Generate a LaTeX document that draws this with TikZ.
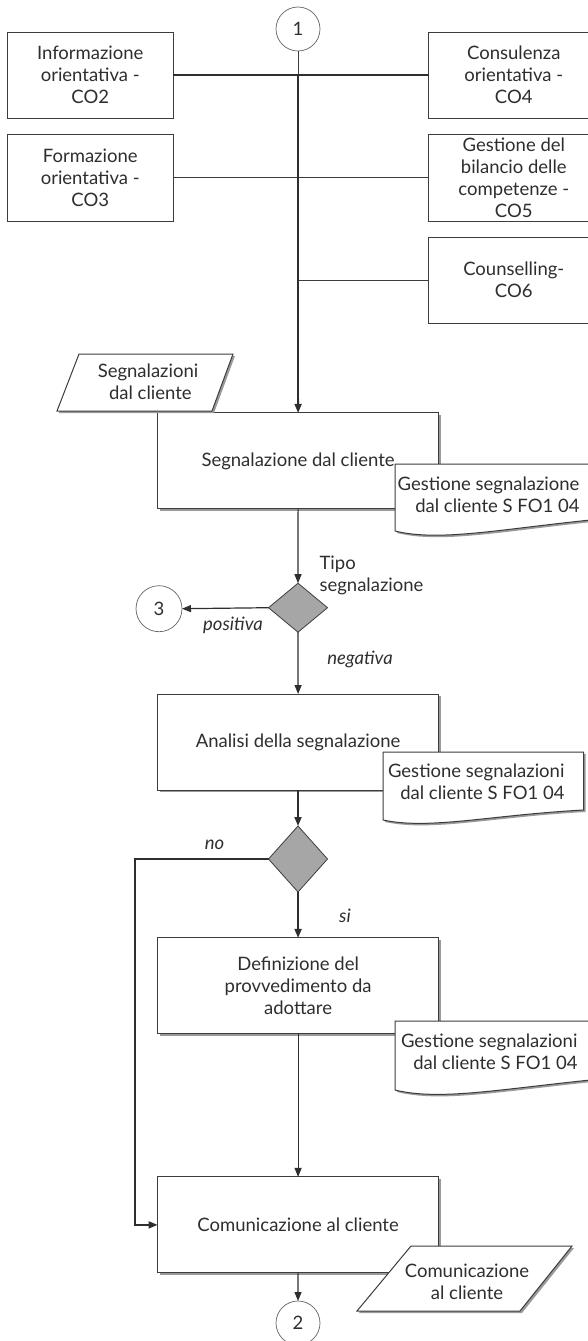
\documentclass[tikz,border=0pt]{standalone}
\usepackage{fontspec}
\setmainfont{Lato}
\usetikzlibrary{arrows.meta,shapes.geometric,shadows}

\definecolor{inkc}{HTML}{2E2E2E}
\definecolor{linec}{HTML}{3C3C3C}
\definecolor{shadowc}{HTML}{9A9A9A}
\definecolor{decisionc}{HTML}{A6A6A6}

\begin{document}
\begin{tikzpicture}[x=1pt,y=-1pt,
  font=\fontsize{18.5}{22}\selectfont, text=inkc,
  boxshadow/.style={drop shadow={shadow xshift=2pt,shadow yshift=-2pt,fill=shadowc,opacity=1}},
  sidebox/.style={draw=linec, fill=white, line width=1pt, inner sep=0pt, outer sep=0pt,
                  minimum height=86pt, align=center},
  procbox/.style={draw=linec, fill=white, line width=1pt, inner sep=0pt, outer sep=0pt,
                  minimum width=281pt, minimum height=96pt, align=center, boxshadow},
  connector/.style={draw=linec!80, circle, line width=0.7pt, minimum size=44pt, inner sep=0pt, outer sep=0pt},
  decision/.style={draw=linec, fill=decisionc, diamond, line width=0.8pt, inner sep=0pt, outer sep=0pt},
  doc/.style={draw=linec, fill=white, line width=1pt, boxshadow},
  iobox/.style={draw=linec, fill=white, line width=1pt, boxshadow},
  flow/.style={draw=inkc, line width=1.2pt, -{Triangle[length=9pt,width=7pt]}},
  flowthick/.style={draw=inkc, line width=1.8pt, -{Triangle[length=9pt,width=7pt]}},
  link/.style={draw=linec, line width=1pt},
  linkthick/.style={draw=inkc, line width=2.4pt},
  branch/.style={font=\fontsize{18.5}{22}\selectfont\itshape},
]
\path[use as bounding box] (0,0) rectangle (588,1341);
\clip (0,0) rectangle (588,1341);

% start connector and the activities hanging from the trunk line
\node[connector] (c1) at (298,29) {1};
\node[sidebox, minimum width=165.5pt] (info) at (90.25,75) {Informazione\\orientativa -\\CO2};
\node[sidebox, minimum width=170.4pt] (cons) at (513.8,75) {Consulenza\\orientativa -\\CO4};
\node[sidebox, minimum width=165.5pt, minimum height=87pt] (form) at (90.25,177.5) {Formazione\\orientativa -\\CO3};
\node[sidebox, minimum width=170.4pt, minimum height=87pt] (bil) at (513.8,177.5)
  {\fontsize{18.5}{21.5}\selectfont Gestione del\\bilancio delle\\competenze -\\CO5};
\node[sidebox, minimum width=170.4pt] (couns) at (513.8,280) {Counselling-\\CO6};

\coordinate (hub) at (298,75.7);
\coordinate (tap) at (298,280);

\draw[link] (c1.south) -- (hub);
\draw[linkthick] (info.east) -- (cons.west);
\draw[link] (form.east) -- (bil.west);
\draw[link] (tap) -- (couns.west);

% process boxes
\node[procbox] (seg) at (298.1,460.9) {Segnalazione dal cliente};
\node[procbox] (ana) at (298.1,742) {Analisi della segnalazione};
\node[procbox] (def) at (298.1,985.9) {Definizione del\\provvedimento da\\adottare};
\node[procbox] (com) at (298.1,1224.9) {Comunicazione al cliente};

% decisions and off-page connectors
\node[decision, minimum width=59pt, minimum height=49pt] (d1) at (298,607.7) {};
\node[decision, minimum width=59pt, minimum height=66pt] (d2) at (298,859) {};
\node[connector, minimum size=46pt] (c3) at (159,608.7) {3};
\node[connector] (c2) at (298,1323) {2};

% flow
\draw[flowthick] (hub) -- (seg.north);
\draw[flow] (seg.south) -- (d1.north);
\draw[flow] (d1.west) -- (c3.east);
\draw[flow] (d1.south) -- (ana.north);
\draw[flowthick] (ana.south) -- (d2.north);
\coordinate (nobend) at (135,859);
\draw[flowthick] (d2.west) -- (nobend) |- (com.west);
\draw[flowthick] (d2.south) -- (def.north);
\draw[flow] (def.south) -- (com.north);
\draw[flow] (com.south) -- (c2.north);

% branch labels
\node[anchor=west, align=left] (tipo) at (316,575) {Tipo\\segnalazione};
\node[branch] (lpos) at (233,625) {positiva};
\node[branch] (lneg) at (360,659) {negativa};
\node[branch] (lno) at (214.5,845) {no};
\node[branch] (lsi) at (345,916) {si};

% input documents (parallelograms)
\draw[iobox] (79,354) -- (233,354) -- (212,411) -- (57,411) -- cycle;
\node[align=center] (inseg) at (148,382) {Segnalazioni\\\ dal cliente};
\draw[iobox] (411,1246) -- (572,1246) -- (520,1311) -- (357,1311) -- cycle;
\node[align=center] (outcom) at (467,1282) {Comunicazione\\al cliente};

% procedure references (document shapes)
\draw[doc] (395,464) -- (600,464) -- (600,519)
  .. controls (500,529) and (440,542) .. (395,531) -- cycle;
\node[anchor=east, align=right] (ref1) at (583,495) {Gestione segnalazione\\dal cliente S FO1 04};
\draw[doc] (383,752) -- (583.5,752) -- (583.5,810)
  .. controls (490,815) and (430,830) .. (383,820) -- cycle;
\node[anchor=east, align=right] (ref2) at (568,782) {Gestione segnalazioni\\dal cliente S FO1 04};
\draw[doc] (395,1021) -- (600,1021) -- (600,1079)
  .. controls (500,1089) and (440,1101) .. (395,1090) -- cycle;
\node[anchor=east, align=right] (ref3) at (581,1052) {Gestione segnalazioni\\dal cliente S FO1 04};
\end{tikzpicture}
\end{document}
